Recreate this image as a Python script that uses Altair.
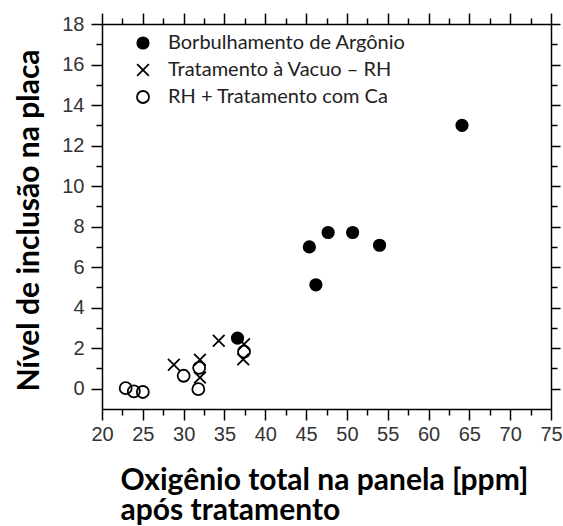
import altair as alt
import pandas as pd

# ---- data ----
series_names = ["Borbulhamento de Argônio", "Tratamento à Vacuo – RH", "RH + Tratamento com Ca"]

arg_x = [36.6, 45.4, 46.2, 47.7, 50.7, 54.0, 64.1]
arg_y = [2.5, 7.0, 5.13, 7.71, 7.71, 7.08, 13.0]

rh_x = [28.8, 32.0, 32.0, 34.3, 37.4, 37.3]
rh_y = [1.18, 1.43, 0.55, 2.37, 2.2, 1.45]

ca_x = [22.9, 23.9, 25.0, 30.0, 31.9, 31.8, 37.4]
ca_y = [0.03, -0.13, -0.16, 0.64, 1.03, -0.02, 1.83]

x_ticks = [20, 22.5, 25, 27.5, 30, 32.5, 35, 37.5, 40, 42.5, 45, 47.5, 50,
           52.5, 55, 57.5, 60, 62.5, 65, 67.5, 70, 72.5, 75]
y_ticks = [0, 1, 2, 3, 4, 5, 6, 7, 8, 9, 10, 11, 12, 13, 14, 15, 16, 17, 18]

x_title = "Oxigênio total na panela [ppm]"
x_title2 = "após tratamento"
y_title = "Nível de inclusão na placa"

rows = []
for name, xs, ys in [(series_names[0], arg_x, arg_y),
                     (series_names[1], rh_x, rh_y),
                     (series_names[2], ca_x, ca_y)]:
    for a, b in zip(xs, ys):
        rows.append({"serie": name, "x": a, "y": b})
df = pd.DataFrame(rows)

xscale = alt.Scale(domain=[20, 75], nice=False, zero=False)
yscale = alt.Scale(domain=[-1, 18], nice=False, zero=False)

X_PATH = "M-1,-1L1,1M-1,1L1,-1"

common_axis = dict(
    domainColor="black", domainWidth=1.5, tickColor="black", tickWidth=1.5,
    grid=False, labelOverlap=False, labelFlush=False,
)

bottom_axis = alt.Axis(
    orient="bottom", values=x_ticks,
    labelExpr="datum.value % 5 === 0 ? datum.label : ''",
    tickSize=alt.condition("datum.value % 5 === 0", alt.value(11), alt.value(6)),
    labelFont="Liberation Sans", labelFontSize=20, labelColor="#333333",
    labelPadding=4,
    title=[x_title, x_title2], titleFont="Lato", titleFontSize=30,
    titleFontWeight="bold", titleColor="black", titleAlign="left",
    titleAnchor="start", titleX=18, titleY=80, titleBaseline="alphabetic",
    titleLineHeight=30,
    **common_axis,
)
left_axis = alt.Axis(
    orient="left", values=y_ticks,
    labelExpr="datum.value % 2 === 0 ? datum.label : ''",
    tickSize=alt.condition("datum.value % 2 === 0", alt.value(11), alt.value(6)),
    labelFont="Liberation Sans", labelFontSize=20, labelColor="#333333",
    labelPadding=7,
    title=y_title, titleFont="Lato", titleFontSize=30, titleFontWeight="bold",
    titleColor="black", titleX=-64, titleY=196, titleBaseline="alphabetic",
    titleAlign="center", titleAngle=270,
    **common_axis,
)
top_axis = alt.Axis(
    orient="top", values=x_ticks, labels=False, title=None,
    tickSize=alt.condition("datum.value % 5 === 0", alt.value(11), alt.value(6)),
    **common_axis,
)
right_axis = alt.Axis(
    orient="right", values=y_ticks, labels=False, title=None,
    tickSize=alt.condition("datum.value % 2 === 0", alt.value(9), alt.value(6)),
    **common_axis,
)

def make_legend():
    return alt.Legend(orient="none", legendX=31, legendY=9, title=None,
                      labelFont="Lato", labelFontSize=20, labelColor="#222222",
                      labelOffset=15, labelLimit=0, rowPadding=7, padding=0,
                      symbolStrokeWidth=1.8)

points = alt.Chart(df).mark_point(filled=False, strokeWidth=1.8, opacity=1).encode(
    x=alt.X("x:Q", scale=xscale, axis=bottom_axis),
    y=alt.Y("y:Q", scale=yscale, axis=left_axis),
    shape=alt.Shape("serie:N", scale=alt.Scale(domain=series_names, range=["circle", X_PATH, "circle"]),
                    legend=make_legend()),
    fill=alt.Fill("serie:N", scale=alt.Scale(domain=series_names, range=["black", "transparent", "transparent"]),
                  legend=make_legend()),
    stroke=alt.Stroke("serie:N", scale=alt.Scale(domain=series_names, range=["black", "black", "black"]),
                      legend=make_legend()),
    size=alt.Size("serie:N", scale=alt.Scale(domain=series_names, range=[130, 144, 80]),
                  legend=make_legend()),
)

frame = alt.Chart(df).mark_point(opacity=0).encode(
    x=alt.X("x:Q", scale=xscale, axis=top_axis),
    y=alt.Y("y:Q", scale=yscale, axis=right_axis),
)

chart = alt.layer(points, frame).resolve_axis(x="independent", y="independent").properties(
    width=449, height=385,
    autosize=alt.AutoSizeParams(type="none"),
    padding={"left": 102, "top": 24, "right": 12, "bottom": 117},
    background="white",
).configure_view(stroke=None)

chart.save("out.html", embed_options={"renderer": "svg", "actions": False})
